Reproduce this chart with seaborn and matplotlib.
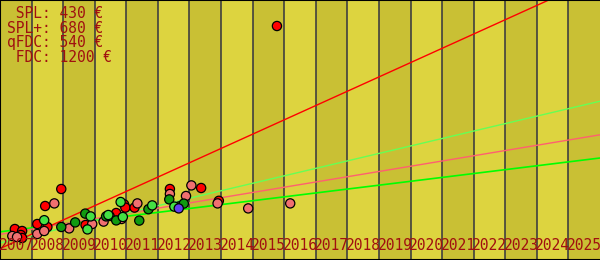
import matplotlib
matplotlib.use("Agg")
import matplotlib.pyplot as plt
import matplotlib.transforms as mtransforms
import seaborn as sns
import pandas as pd

# ---- data (price in EUR over time) ----
years = list(range(2007, 2026))
year_labels = [str(y) for y in years]

spl_x = [2007.47, 2007.70, 2007.66, 2007.70, 2008.18, 2008.43, 2008.50, 2008.94,
         2009.71, 2010.68, 2010.93, 2010.97, 2011.26, 2012.38, 2013.37, 2013.93, 2015.77]
spl_y = [155, 145, 125, 110, 180, 270, 165, 355,
         175, 235, 278, 262, 262, 355, 360, 296, 1170]

splp_x = [2007.39, 2007.54, 2008.18, 2008.40, 2008.72, 2009.19, 2009.92, 2010.28,
          2010.85, 2011.35, 2012.38, 2012.89, 2013.06, 2013.89, 2014.86, 2016.19]
splp_y = [120, 115, 130, 145, 283, 158, 180, 192,
          205, 283, 330, 320, 373, 283, 258, 283]

qfdc_x = [2008.94, 2009.38, 2009.70, 2010.36, 2010.47, 2010.68, 2011.41, 2011.70,
          2012.36, 2012.67, 2012.82]
qfdc_y = [165, 188, 232, 218, 220, 198, 197, 254,
          303, 268, 282]

fdc_x = [2008.40, 2009.87, 2009.77, 2010.43, 2010.82, 2010.89, 2011.82, 2012.52]
fdc_y = [199, 218, 153, 225, 290, 215, 273, 267]

other_x = [2012.66]
other_y = [258]

# trend lines: value at start and end of the time axis
trend_x = [2007, 2026]
spl_trend = [57, 1416]
fdc_trend = [85, 794]
splp_trend = [128, 626]
qfdc_trend = [141, 510]

legend_lines = [" SPL: 430 €", "SPL+: 680 €", "qFDC: 540 €", " FDC: 1200 €"]

# ---- styling ----
band_dark = "#c9c034"
band_light = "#ddd43f"
grid_col = "#34343f"
text_col = "#a01010"
pt_colors = {"SPL": "#ff0000", "SPL+": "#f07070", "qFDC": "#109a10",
             "FDC": "#44e044", "other": "#6040f0"}
line_colors = {"SPL": "#ff0000", "FDC": "#66ff55", "SPL+": "#ff6070", "qFDC": "#00ff00"}

pts = pd.concat([
    pd.DataFrame({"year": spl_x, "price": spl_y, "kind": "SPL"}),
    pd.DataFrame({"year": splp_x, "price": splp_y, "kind": "SPL+"}),
    pd.DataFrame({"year": qfdc_x, "price": qfdc_y, "kind": "qFDC"}),
    pd.DataFrame({"year": fdc_x, "price": fdc_y, "kind": "FDC"}),
    pd.DataFrame({"year": other_x, "price": other_y, "kind": "other"}),
], ignore_index=True)

trends = pd.concat([
    pd.DataFrame({"year": trend_x, "price": qfdc_trend, "kind": "qFDC"}),
    pd.DataFrame({"year": trend_x, "price": splp_trend, "kind": "SPL+"}),
    pd.DataFrame({"year": trend_x, "price": fdc_trend, "kind": "FDC"}),
    pd.DataFrame({"year": trend_x, "price": spl_trend, "kind": "SPL"}),
], ignore_index=True)

sns.set_style("white")
fig = plt.figure(figsize=(6.0, 2.6), dpi=100)
ax = fig.add_axes([0, 0, 1, 1])

for i, y in enumerate(years):
    ax.axvspan(y, y + 1, color=band_dark if i % 2 == 0 else band_light, lw=0, zorder=0)
for y in years[1:]:
    ax.axvline(y, color=grid_col, lw=1.1, zorder=1)

sns.lineplot(data=trends, x="year", y="price", hue="kind", palette=line_colors,
             ax=ax, legend=False, linewidth=1.0, zorder=2, estimator=None)
for l in ax.get_lines():
    if l.get_color() in ("#00ff00",):
        l.set_linewidth(1.2)

sns.scatterplot(data=pts, x="year", y="price", hue="kind", palette=pt_colors,
                ax=ax, legend=False, s=44, edgecolor="black", linewidth=0.9, zorder=3)

ax.set_xlim(2007, 2026)
ax.set_ylim(0, 1300)
ax.set_xticks([])
ax.set_yticks([])
ax.set_xlabel("")
ax.set_ylabel("")

offset = mtransforms.offset_copy(ax.transData, fig=fig, x=-1.5, y=0, units="dots")
for y, lab in zip(years, year_labels):
    ax.text(y, 50, lab, transform=offset, ha="left", va="baseline",
            family="DejaVu Sans Mono", fontsize=10.5, color=text_col, zorder=4)

for i, line in enumerate(legend_lines):
    fig.text(7 / 600, 1 - (18 + 14.6 * i) / 260, line, ha="left", va="baseline",
             family="DejaVu Sans Mono", fontsize=10.5, color=text_col)

for side in ["left", "top", "bottom"]:
    ax.spines[side].set_visible(True)
    ax.spines[side].set_color("black")
    ax.spines[side].set_linewidth(1.5)
ax.spines["right"].set_visible(False)

fig.savefig("out.png", dpi=100)
